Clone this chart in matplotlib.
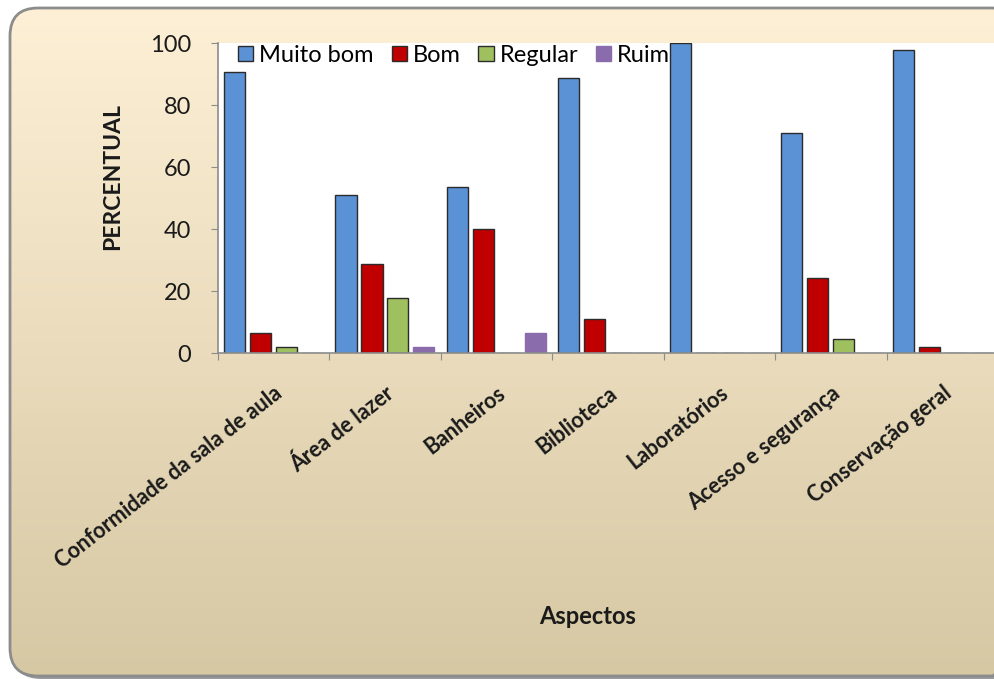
import numpy as np
import matplotlib
matplotlib.use("Agg")
import matplotlib.pyplot as plt
from matplotlib.patches import FancyBboxPatch, Patch
from matplotlib.ticker import FixedLocator

categories = ["Conformidade da sala de aula", "Área de lazer", "Banheiros",
              "Biblioteca", "Laboratórios", "Acesso e segurança", "Conservação geral"]
series_names = ["Muito bom", "Bom", "Regular", "Ruim"]
muito_bom = [90.7, 51.0, 53.5, 88.7, 100.0, 71.1, 97.7]
bom = [6.6, 28.8, 40.0, 11.1, 0.0, 24.2, 2.0]
regular = [2.1, 17.7, 0.0, 0.0, 0.0, 4.6, 0.0]
ruim = [0.0, 1.9, 6.4, 0.0, 0.0, 0.0, 0.0]
yticks = [0, 20, 40, 60, 80, 100]

colors = ["#5A92D5", "#C00000", "#9FC05F", "#8A6BAB"]
edges = ["#2b2b2b", "#2b2b2b", "#2b2b2b", "#8A6BAB"]

plt.rcParams['font.family'] = ['Lato', 'DejaVu Sans']

W, H = 994, 679
fig = plt.figure(figsize=(W / 100, H / 100), dpi=100)
fig.patch.set_facecolor("white")

# background frame with gradient
bg = fig.add_axes([0, 0, 1, 1])
bg.set_xlim(0, W)
bg.set_ylim(H, 0)
bg.axis("off")
shadow = FancyBboxPatch((13, 11), 1010, 668, boxstyle="round,pad=0,rounding_size=28",
                        facecolor="#9a9a9a", edgecolor="none", zorder=0)
bg.add_patch(shadow)
frame = FancyBboxPatch((10, 8), 1010, 668, boxstyle="round,pad=0,rounding_size=28",
                       facecolor="none", edgecolor="#8c8c8c", linewidth=2, zorder=3)
bg.add_patch(frame)
grad = np.linspace(0, 1, 256).reshape(256, 1, 1)
top = np.array([254, 240, 214]) / 255
bot = np.array([214, 200, 163]) / 255
img = top + (bot - top) * grad * np.ones((1, 2, 1))
im = bg.imshow(img, extent=(10, 1020, 676, 8), aspect="auto", zorder=1)
clip = FancyBboxPatch((10, 8), 1010, 668, boxstyle="round,pad=0,rounding_size=28",
                      facecolor="none", edgecolor="none", transform=bg.transData)
im.set_clip_path(clip)

# main axes
left = 217.7 / W
right = 998 / W
bottom = 1 - 353.3 / H
topy = 1 - 43 / H
ax = fig.add_axes([left, bottom, right - left, topy - bottom])
ax.set_facecolor("white")

x = np.arange(len(categories)) + 0.5
pitch = 0.233
width = 0.19
for k, (vals, name) in enumerate(zip([muito_bom, bom, regular, ruim], series_names)):
    ax.bar(x + (k - 1.5) * pitch, vals, width, color=colors[k], edgecolor=edges[k],
           linewidth=1.0, label=name, zorder=2)

ax.set_xlim(0, len(categories))
ax.set_ylim(0, 100)
ax.set_yticks(yticks)
ax.tick_params(axis="y", labelsize=17, length=5, color="#8c8c8c", pad=14, labelcolor="#1a1a1a")
ax.xaxis.set_major_locator(FixedLocator(np.arange(len(categories) + 1)))
ax.set_xticklabels([])
ax.set_xticks(x, minor=True)
ax.set_xticklabels(categories, minor=True, rotation=38, ha="right", rotation_mode="anchor",
                   fontsize=15.5, fontweight="bold", color="#1a1a1a")
ax.tick_params(axis="x", which="major", length=5, color="#8c8c8c")
ax.tick_params(axis="x", which="minor", length=0, pad=21)
for s in ["top", "right"]:
    ax.spines[s].set_visible(False)
for s in ["left", "bottom"]:
    ax.spines[s].set_color("#8c8c8c")
    ax.spines[s].set_linewidth(1.2)

handles = [Patch(facecolor=colors[k], edgecolor=edges[k], linewidth=1.0) for k in range(4)]
leg = ax.legend(handles, series_names, loc="upper left", bbox_to_anchor=(0.014, 1.025), ncol=4,
                frameon=False, fontsize=17, handlelength=0.65, handleheight=0.65,
                handletextpad=0.25, columnspacing=0.75, borderaxespad=0)

fig.text(113 / W, 1 - 177 / H, "PERCENTUAL", rotation=90, ha="center", va="center",
         fontsize=16.5, fontweight="bold", color="#1a1a1a")
fig.text(588 / W, 1 - 616 / H, "Aspectos", ha="center", va="center",
         fontsize=17, fontweight="bold", color="#1a1a1a")

fig.savefig("out.png", dpi=100, facecolor=fig.get_facecolor())
